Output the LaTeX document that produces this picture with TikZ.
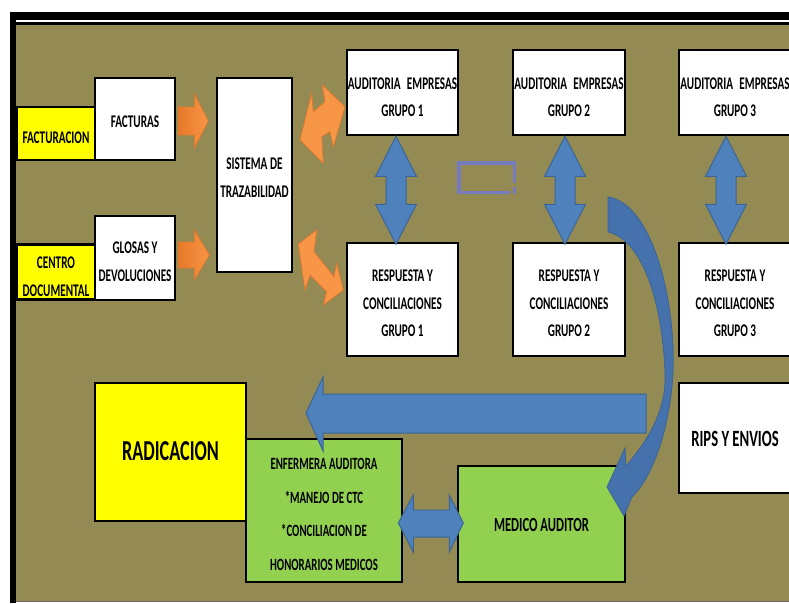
\documentclass[tikz,border=0pt]{standalone}
\usepackage{fontspec}
\newfontfamily\lbl{Carlito}[FakeStretch=0.63]
\usetikzlibrary{calc}
\definecolor{olivebg}{HTML}{948A54}
\definecolor{boxyellow}{HTML}{FFFF00}
\definecolor{boxgreen}{HTML}{92D050}
\definecolor{bluefill}{HTML}{4F81BD}
\definecolor{blueedge}{HTML}{3B6596}
\definecolor{curveblue}{HTML}{4572AD}
\definecolor{orfill}{HTML}{F79646}
\definecolor{ordark}{HTML}{E8782A}
\definecolor{oredge}{HTML}{E07A30}
\definecolor{rectblue}{HTML}{767ABE}
\newcommand\txtlines[2][-4pt]{\raisebox{#1}[\height][\depth]{\begin{tabular}{@{}c@{}}#2\end{tabular}}}
\tikzset{
  box/.style={draw=black, line width=2.6pt, fill=white, inner sep=0pt, align=center,
    font=\lbl\bfseries\fontsize{17.8}{27.5}\selectfont},
  ybox/.style={box, fill=boxyellow},
  gbox/.style={box, fill=boxgreen},
  bluearrow/.style={fill=bluefill, draw=blueedge, line width=1pt, line join=miter},
  orarrow/.style={fill=orfill, draw=oredge, line width=0.8pt},
  orshade/.style={left color=ordark, right color=orfill, draw=oredge, line width=0.8pt},
}
\begin{document}
\begin{tikzpicture}[x=1pt,y=-1pt]
\useasboundingbox (0,0) rectangle (789,603);
\clip (0,0) rectangle (789,603);
% frame
\fill[white] (0,0) rectangle (789,603);
\fill[olivebg] (16,25) rectangle (789,601);
\fill[black] (10,12) rectangle (789,20);
\fill[black] (16,22) rectangle (789,25);
\fill[black] (10,12) rectangle (16,603);
\draw[black!60, line width=1pt] (16,601.5) -- (789,601.5);

% boxes
\node[ybox, minimum width=78pt, minimum height=53pt] (factur) at (56,133.5) {\txtlines{FACTURACION}};
\node[box, minimum width=80pt, minimum height=82pt] (facturas) at (135,119) {\txtlines[-3pt]{FACTURAS}};
\node[ybox, minimum width=78pt, minimum height=54pt] (centro) at (56,272) {\txtlines[-5pt]{CENTRO\\DOCUMENTAL}};
\node[box, minimum width=80pt, minimum height=84pt] (glosas) at (135,258) {\txtlines{GLOSAS Y\\DEVOLUCIONES}};
\node[box, minimum width=75pt, minimum height=194pt] (sistema) at (254.5,175) {\txtlines[-3pt]{SISTEMA DE\\TRAZABILIDAD}};

\node[box, minimum width=111pt, minimum height=85pt] (aud1) at (402.5,92.5) {\txtlines[-5pt]{AUDITORIA\hspace{0.35em}EMPRESAS\\GRUPO 1}};
\node[box, minimum width=112pt, minimum height=85pt] (aud2) at (569,92.5) {\txtlines[-5pt]{AUDITORIA\hspace{0.35em}EMPRESAS\\GRUPO 2}};
\node[box, minimum width=112pt, minimum height=85pt] (aud3) at (735,92.5) {\txtlines[-5pt]{AUDITORIA\hspace{0.35em}EMPRESAS\\GRUPO 3}};

\node[box, minimum width=111pt, minimum height=113pt] (resp1) at (402.5,299.5) {\txtlines{RESPUESTA Y\\CONCILIACIONES\\GRUPO 1}};
\node[box, minimum width=112pt, minimum height=113pt] (resp2) at (569,299.5) {\txtlines{RESPUESTA Y\\CONCILIACIONES\\GRUPO 2}};
\node[box, minimum width=112pt, minimum height=113pt] (resp3) at (735,299.5) {\txtlines{RESPUESTA Y\\CONCILIACIONES\\GRUPO 3}};

\node[ybox, minimum width=151pt, minimum height=138pt, font=\lbl\bfseries\fontsize{28.9}{32}\selectfont] (radic) at (170.5,452) {\txtlines[-2pt]{RADICACION}};
\node[gbox, minimum width=156pt, minimum height=143pt, font=\lbl\bfseries\fontsize{17.2}{33.5}\selectfont] (enf) at (324,510.5) {\txtlines[-3pt]{ENFERMERA AUDITORA\\{}*MANEJO DE CTC\\{}*CONCILIACION DE\\HONORARIOS MEDICOS}};
\node[gbox, minimum width=167pt, minimum height=116pt, font=\lbl\bfseries\fontsize{20}{24}\selectfont] (medico) at (541.5,524) {\txtlines[-3pt]{MEDICO AUDITOR}};
\node[box, minimum width=112pt, minimum height=110pt, font=\lbl\bfseries\fontsize{23.3}{27}\selectfont] (rips) at (735,438) {\txtlines[-3pt]{RIPS Y ENVIOS}};

% orange arrows
\path[orshade] ($(facturas.east)+(2,-12)$) -- ++(16,0) -- ++(0,-13) -- ++(14,27) -- ++(-14,27) -- ++(0,-13) -- ++(-16,0) -- cycle;
\path[orshade] ($(glosas.east)+(2,-16)$) -- ++(16,0) -- ++(0,-12) -- ++(15,25) -- ++(-15,25) -- ++(0,-12) -- ++(-16,0) -- cycle;
\path[orarrow] (345,106.7) -- (333.3,146.7) -- (330,131.7) -- (321.7,136.7) -- (323.3,163.3) -- (300,140) -- (311.7,93.3) -- (313.3,111.7) -- (325,101.7) -- (322.3,85) -- cycle;
\path[orarrow] (298.3,244) -- (316.7,230) -- (314,251.7) -- (334,276.7) -- (336.7,263.3) -- (343.3,290) -- (323.3,305) -- (326.7,291.7) -- (310,275) -- (305,290) -- cycle;

% vertical blue double arrows
\foreach \a/\r/\dx in {aud1/resp1/-6.5, aud2/resp2/-4, aud3/resp3/-9}{
  \path[bluearrow] ($(\a.south)+(\dx,0)$) -- ++(20.5,40) -- ++(-10.5,0) -- ++(0,28) -- ++(10.5,0) -- ++(-20.5,40) -- ++(-20.5,-40) -- ++(10.5,0) -- ++(0,-28) -- ++(-10.5,0) -- cycle;
}

% small outlined rectangle
\draw[rectblue, line width=3.5pt] (514.25,183) -- (514.25,162.75) -- (458.75,162.75) -- (458.75,192.25) -- (510,192.25);
\fill[rectblue] (512.5,187) rectangle (516,194);

% big left arrow
\path[bluearrow] (646,394) -- (323,394) -- (323,377) -- (306,413) -- (323,451) -- (323,433) -- (646,433) -- cycle;

% horizontal double arrow
\path[bluearrow] ($(enf.east |- medico.west)+(-5,-1)$) -- ++(15,-28) -- ++(0,15) -- ++(36,0) -- ++(0,-15) -- ++(14,28) -- ++(-14,29) -- ++(0,-15) -- ++(-36,0) -- ++(0,15) -- cycle;

% curved arrow
\path[fill=curveblue, draw=blueedge, line width=0.8pt] (608,197) .. controls (652,203) and (676,300) .. (673,372) .. controls (670,430) and (652,478) .. (632,497) -- (624,516) -- (607,487) -- (625,448) -- (626,466) .. controls (648,440) and (667,410) .. (665,372) .. controls (662,300) and (642,240) .. (608,232) -- cycle;
\end{tikzpicture}
\end{document}
